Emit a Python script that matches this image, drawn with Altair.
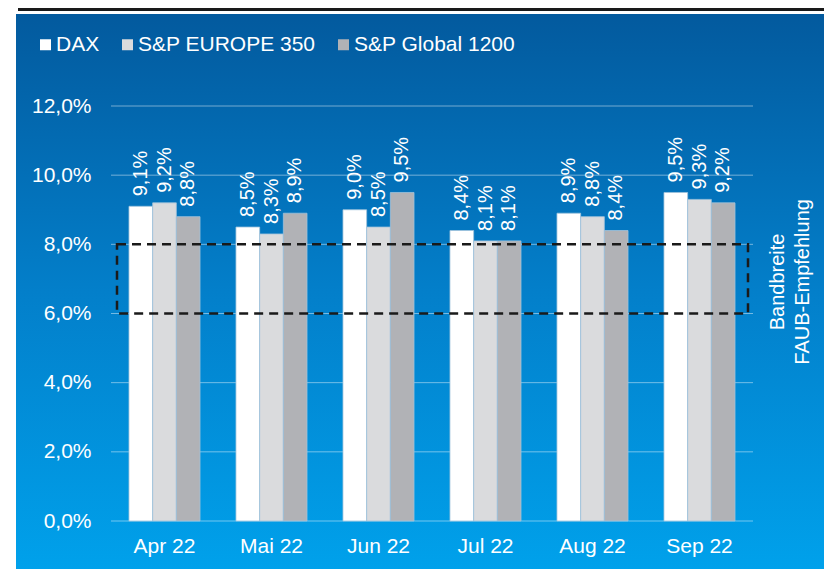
import altair as alt
import pandas as pd

months = ["Apr 22", "Mai 22", "Jun 22", "Jul 22", "Aug 22", "Sep 22"]
series = ["DAX", "S&P EUROPE 350", "S&P Global 1200"]
dax = [9.1, 8.5, 9.0, 8.4, 8.9, 9.5]
europe = [9.2, 8.3, 8.5, 8.1, 8.8, 9.3]
global_ = [8.8, 8.9, 9.5, 8.1, 8.4, 9.2]
y_ticks = [0, 2, 4, 6, 8, 10, 12]
band_low, band_high = 6, 8
band_text = ["Bandbreite", "FAUB-Empfehlung"]
colors = ["#FFFFFF", "#DADBDD", "#B1B2B6"]

rows = []
for s, vals in zip(series, [dax, europe, global_]):
    for m, v in zip(months, vals):
        rows.append({"month": m, "series": s, "value": v})
df = pd.DataFrame(rows)

FONT = "Liberation Sans, Arial, Helvetica, sans-serif"
W, H = 642, 415
PAD = {"left": 103, "top": 98, "right": 71, "bottom": 48}
SVG_W = PAD["left"] + W + PAD["right"]
SVG_H = PAD["top"] + H + PAD["bottom"]

one = alt.Data(values=[{"k": 1}])

bg = alt.Chart(one).mark_rect(
    fill=alt.Gradient(
        gradient="linear",
        stops=[
            alt.GradientStop(color="#035A9E", offset=0),
            alt.GradientStop(color="#037FCA", offset=0.5),
            alt.GradientStop(color="#00A1EB", offset=1),
        ],
        x1=0, x2=0, y1=0, y2=1,
    )
).encode(
    x=alt.value(-95), x2=alt.value(SVG_W - PAD["left"]),
    y=alt.value(-92), y2=alt.value(SVG_H - PAD["top"]),
)

topline = alt.Chart(one).mark_rule(color="#1A1A1A", strokeWidth=3).encode(
    x=alt.value(-93), x2=alt.value(SVG_W - PAD["left"]),
    y=alt.value(-96.5),
)

grid = alt.Chart(pd.DataFrame({"t": y_ticks})).mark_rule(
    color="#FFFFFF", strokeOpacity=0.45, strokeWidth=1
).encode(
    y=alt.Y("t:Q"),
    x=alt.value(0), x2=alt.value(W),
)

xenc = alt.X(
    "month:N", sort=months,
    scale=alt.Scale(paddingInner=0.336, paddingOuter=0.168),
    axis=alt.Axis(title=None, labelAngle=0, ticks=False, domain=False,
                  labelFontSize=21, labelColor="#FFFFFF", labelFont=FONT,
                  labelPadding=14, zindex=1),
)
yenc = alt.Y(
    "value:Q",
    scale=alt.Scale(domain=[0, 12], nice=False),
    axis=alt.Axis(title=None, values=y_ticks, grid=False, ticks=False,
                  domain=False, labelFontSize=21, labelColor="#FFFFFF",
                  labelFont=FONT, labelPadding=20, zindex=1,
                  labelExpr="replace(format(datum.value, '.1f'), '.', ',') + '%'"),
)
xoff = alt.XOffset("series:N", sort=series,
                   scale=alt.Scale(paddingInner=0, paddingOuter=0))

bars = alt.Chart(df).mark_bar(stroke="#9FC3DC", strokeWidth=0.8).encode(
    x=xenc, y=yenc, xOffset=xoff,
    color=alt.Color(
        "series:N", sort=series,
        scale=alt.Scale(domain=series, range=colors),
        legend=alt.Legend(
            title=None, orient="none", direction="horizontal",
            legendX=-76, legendY=-72,
            symbolType="square", symbolSize=121, symbolStrokeWidth=0,
            symbolOpacity=1, labelLimit=0,
            labelFontSize=21, labelColor="#FFFFFF", labelFont=FONT,
            labelOffset=0, columnPadding=17,
        ),
    ),
)

labels = alt.Chart(df).transform_calculate(
    lab="replace(format(datum.value, '.1f'), '.', ',') + '%'"
).mark_text(
    angle=270, align="left", baseline="middle", dx=10,
    fontSize=20, color="#FFFFFF", font=FONT,
).encode(
    x=alt.X("month:N", sort=months), xOffset=xoff,
    y="value:Q", text="lab:N",
)

band = alt.Chart(one).mark_rect(
    filled=False, stroke="#1A1A1A", strokeWidth=2.5, strokeDash=[9, 6],
).encode(
    x=alt.value(6), x2=alt.value(637),
    y=alt.datum(band_high), y2=alt.datum(band_low),
)

band_label = alt.Chart(one).mark_text(
    angle=270, align="center", baseline="middle", fontSize=20,
    color="#FFFFFF", font=FONT, lineHeight=25, dx=-3,
).encode(
    x=alt.value(667), y=alt.datum(7), text=alt.value(band_text),
)

chart = alt.layer(bg, topline, grid, bars, labels, band, band_label).properties(
    width=W, height=H,
    autosize=alt.AutoSizeParams(type="none"),
    padding=PAD,
    background="#FFFFFF",
).configure_view(strokeWidth=0).configure_legend(padding=0)

chart.save("out.html", embed_options={"renderer": "svg", "actions": False})
